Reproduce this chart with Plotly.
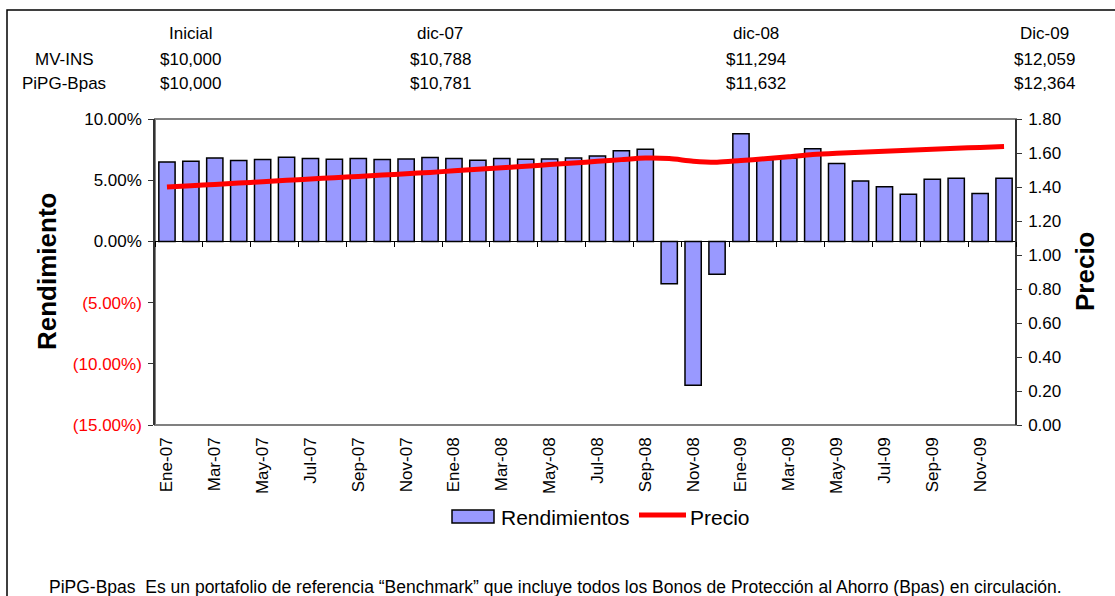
import plotly.graph_objects as go

# ---------------- data ----------------
months = ["Ene-07", "Feb-07", "Mar-07", "Abr-07", "May-07", "Jun-07", "Jul-07", "Ago-07", "Sep-07",
          "Oct-07", "Nov-07", "Dic-07", "Ene-08", "Feb-08", "Mar-08", "Abr-08", "May-08", "Jun-08",
          "Jul-08", "Ago-08", "Sep-08", "Oct-08", "Nov-08", "Dic-08", "Ene-09", "Feb-09", "Mar-09",
          "Abr-09", "May-09", "Jun-09", "Jul-09", "Ago-09", "Sep-09", "Oct-09", "Nov-09", "Dic-09"]

rendimientos = [6.49, 6.55, 6.82, 6.60, 6.69, 6.88, 6.77, 6.71, 6.77, 6.69, 6.74, 6.85,
                6.77, 6.63, 6.77, 6.71, 6.74, 6.82, 6.98, 7.40, 7.53, -3.45, -11.75, -2.68,
                8.79, 6.70, 6.80, 7.56, 6.36, 4.93, 4.47, 3.86, 5.07, 5.15, 3.92, 5.15]

precio = [1.400, 1.408, 1.415, 1.423, 1.431, 1.439, 1.447, 1.455, 1.462, 1.470, 1.478, 1.486,
          1.495, 1.504, 1.513, 1.522, 1.532, 1.541, 1.551, 1.561, 1.570, 1.567, 1.552, 1.546,
          1.556, 1.566, 1.578, 1.591, 1.599, 1.605, 1.611, 1.616, 1.622, 1.628, 1.633, 1.638]

left_tickvals = [10, 5, 0, -5, -10, -15]
left_ticktext = ["10.00%", "5.00%", "0.00%", "(5.00%)", "(10.00%)", "(15.00%)"]
right_tickvals = [0, 0.2, 0.4, 0.6, 0.8, 1.0, 1.2, 1.4, 1.6, 1.8]

table_headers = ["Inicial", "dic-07", "dic-08", "Dic-09"]
table_rows = ["MV-INS", "PiPG-Bpas"]
mvins_values = ["$10,000", "$10,788", "$11,294", "$12,059"]
pipg_values = ["$10,000", "$10,781", "$11,632", "$12,364"]

series_names = ["Rendimientos", "Precio"]
note = ("PiPG-Bpas  Es un portafolio de referencia \u201cBenchmark\u201d que incluye todos los Bonos "
        "de Protecci\u00f3n al Ahorro (Bpas) en circulaci\u00f3n.")

# ---------------- layout geometry (pixels) ----------------
FW, FH = 1115, 596
L, R, T, B = 155, 1016, 119, 425
PW, PH = R - L, B - T
FONT = "Liberation Sans, Arial, sans-serif"


def px(x):
    return (x - L) / PW


def py(y):
    return (B - y) / PH


xs = list(range(len(months)))

fig = go.Figure()
fig.add_trace(go.Bar(
    x=xs, y=rendimientos, name=series_names[0], width=0.68,
    marker=dict(color="#9999FF", line=dict(color="black", width=1.5)),
    showlegend=False, xaxis="x", yaxis="y"))
fig.add_trace(go.Scatter(
    x=xs, y=precio, name=series_names[1], mode="lines",
    line=dict(color="#FF0000", width=5, shape="spline", smoothing=0.8),
    showlegend=False, xaxis="x2", yaxis="y2"))

xr = [-0.5, len(months) - 0.5]
boundaries = [-0.5 + 2 * k for k in range(len(months) // 2 + 1)]

annotations = []
# table
col_x = [190, 440, 756, 1044]
for cx, h, v1, v2 in zip(col_x, table_headers, mvins_values, pipg_values):
    for txt, yy in ((h, 33), (v1, 59), (v2, 83)):
        annotations.append(dict(text=txt, x=px(cx), y=py(yy), xref="paper", yref="paper",
                                xanchor="center", yanchor="middle", showarrow=False,
                                font=dict(family=FONT, size=17, color="black")))
for lbl, yy in zip(table_rows, (59, 83)):
    annotations.append(dict(text=lbl, x=px(64), y=py(yy), xref="paper", yref="paper",
                            xanchor="center", yanchor="middle", showarrow=False,
                            font=dict(family=FONT, size=17, color="black")))
# axis titles
annotations.append(dict(text="<b>Rendimiento</b>", x=px(47), y=py(272), xref="paper", yref="paper",
                        textangle=-90, showarrow=False, xanchor="center", yanchor="middle",
                        font=dict(family=FONT, size=26, color="black")))
annotations.append(dict(text="<b>Precio</b>", x=px(1085), y=py(271), xref="paper", yref="paper",
                        textangle=-90, showarrow=False, xanchor="center", yanchor="middle",
                        font=dict(family=FONT, size=26, color="black")))
# legend
annotations.append(dict(text=series_names[0], x=px(499), y=py(517), xref="paper", yref="paper",
                        xanchor="left", yanchor="middle", showarrow=False,
                        font=dict(family=FONT, size=21, color="black")))
annotations.append(dict(text=series_names[1], x=px(688), y=py(517), xref="paper", yref="paper",
                        xanchor="left", yanchor="middle", showarrow=False,
                        font=dict(family=FONT, size=21, color="black")))
# note
annotations.append(dict(text=note, x=px(47), y=py(587), xref="paper", yref="paper",
                        xanchor="left", yanchor="middle", showarrow=False,
                        font=dict(family=FONT, size=17.5, color="black")))

shapes = [
    # outer frame
    dict(type="rect", xref="paper", yref="paper", x0=px(7), x1=px(1140), y0=py(10), y1=py(620),
         line=dict(color="black", width=1.5), fillcolor="rgba(0,0,0,0)", layer="below"),
    # plot-area border
    dict(type="rect", xref="paper", yref="paper", x0=0, x1=1, y0=0, y1=1,
         line=dict(color="#808080", width=2), fillcolor="rgba(0,0,0,0)", layer="below"),
    # legend symbols
    dict(type="rect", xref="paper", yref="paper", x0=px(452), x1=px(494), y0=py(523), y1=py(510),
         line=dict(color="black", width=1.5), fillcolor="#9999FF"),
    dict(type="line", xref="paper", yref="paper", x0=px(639), x1=px(686), y0=py(515), y1=py(515),
         line=dict(color="#FF0000", width=5)),
]

fig.update_layout(
    width=FW, height=FH,
    margin=dict(l=L, r=FW - R, t=T, b=FH - B, pad=0),
    paper_bgcolor="white", plot_bgcolor="white",
    font=dict(family=FONT, size=17, color="black"),
    showlegend=False,
    bargap=0.32,
    xaxis=dict(range=xr, tickmode="array", tickvals=xs[::2], ticktext=months[::2],
               tickangle=-90, ticks="", showline=False, showgrid=False, zeroline=False,
               ticklabelstandoff=8,
               tickfont=dict(family=FONT, size=17, color="black")),
    xaxis2=dict(range=xr, overlaying="x", anchor="free", position=py(B - 0.6 * PH),
                tickmode="array", tickvals=boundaries, ticks="outside", ticklen=5,
                tickcolor="black", showticklabels=False, showline=True, linecolor="black",
                linewidth=1, showgrid=False, zeroline=False),
    yaxis=dict(range=[-15, 10], tickmode="array", tickvals=left_tickvals,
               ticktext=[t if v >= 0 else f"<span style='color:#FF0000'>{t}</span>"
                         for v, t in zip(left_tickvals, left_ticktext)],
               ticks="outside", ticklen=5, tickcolor="#333", showline=True, linecolor="#333",
               linewidth=1.5, showgrid=False, zeroline=False, ticklabelstandoff=3,
               tickfont=dict(family=FONT, size=17, color="black")),
    yaxis2=dict(range=[0, 1.8], overlaying="y", side="right", anchor="free", position=1,
                tickmode="array", tickvals=right_tickvals, tickformat=".2f",
                ticks="outside", ticklen=5, tickcolor="#333", showline=True, linecolor="#333",
                linewidth=1.5, showgrid=False, zeroline=False, ticklabelstandoff=3,
                tickfont=dict(family=FONT, size=17, color="black")),
    annotations=annotations,
    shapes=shapes,
)

fig.write_html("out.html", config={"displayModeBar": False},
               post_script="document.body.style.margin='0';")
